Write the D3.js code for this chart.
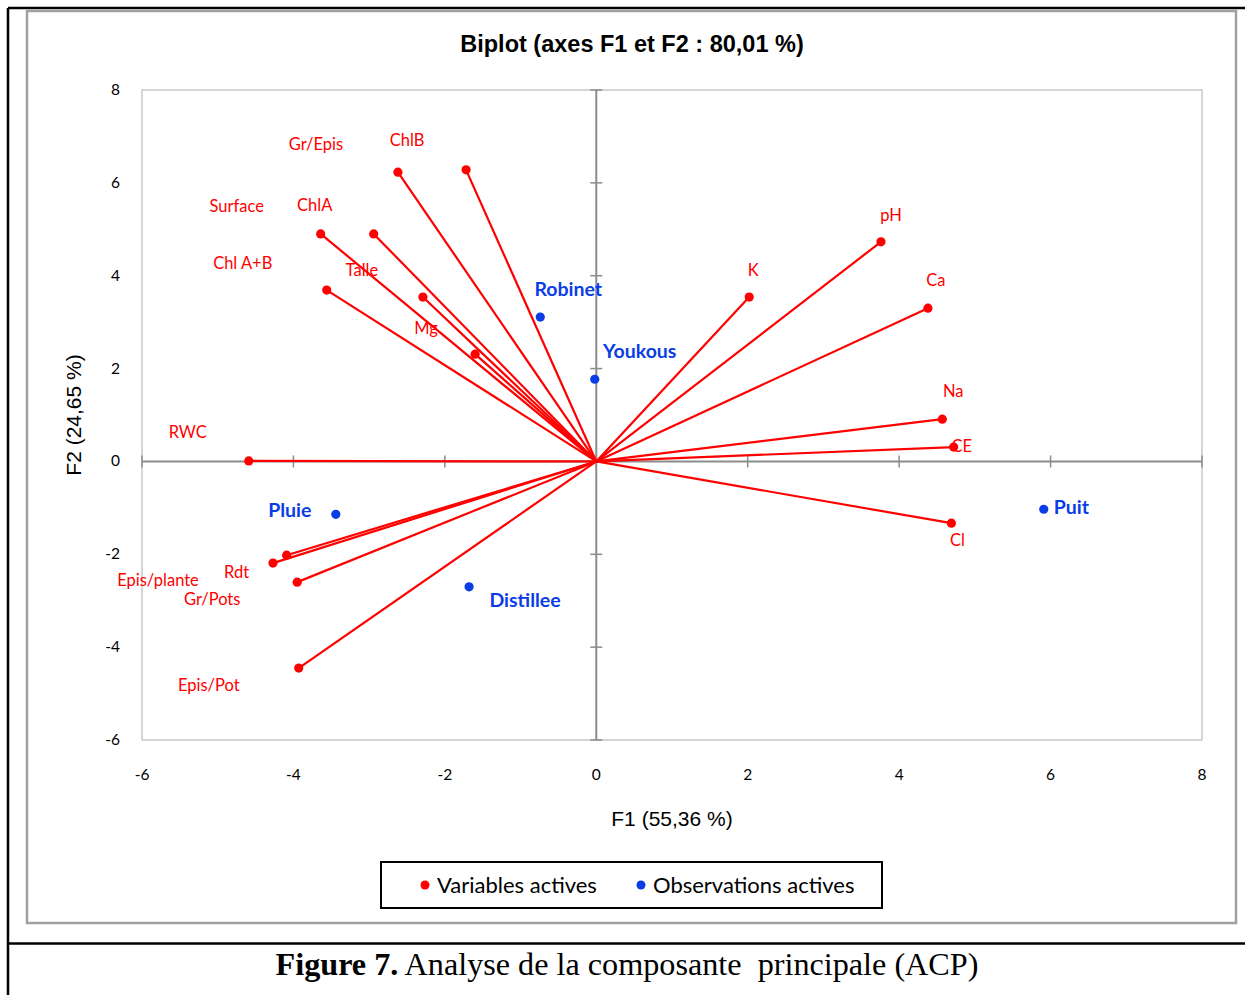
<!DOCTYPE html>
<html><head><meta charset="utf-8">
<script src="https://cdn.jsdelivr.net/npm/d3@7"></script>
<style>body{margin:0;background:#fff}svg{display:block}</style>
</head><body>
<script>
// ---- data ----
const varNames = ["Gr/Epis","ChlB","Surface","ChlA","Chl A+B","Talle","Mg","RWC","Rdt","Epis/plante","Gr/Pots","Epis/Pot","pH","K","Ca","Na","CE","Cl"];
const varF1 = [-2.62,-1.72,-3.64,-2.94,-3.56,-2.29,-1.60,-4.59,-4.09,-4.27,-3.95,-3.93,3.76,2.02,4.38,4.57,4.72,4.69];
const varF2 = [6.23,6.28,4.90,4.90,3.69,3.54,2.31,0.01,-2.02,-2.19,-2.60,-4.45,4.73,3.54,3.30,0.91,0.31,-1.33];
const obsNames = ["Robinet","Youkous","Pluie","Distillee","Puit"];
const obsF1 = [-0.74,-0.02,-3.44,-1.68,5.91];
const obsF2 = [3.11,1.77,-1.14,-2.70,-1.03];
const xTicks = [-6,-4,-2,0,2,4,6,8];
const yTicks = [-6,-4,-2,0,2,4,6,8];
const titleText = "Biplot (axes F1 et F2 : 80,01 %)";
const xTitle = "F1 (55,36 %)";
const yTitle = "F2 (24,65 %)";
const legendItems = ["Variables actives","Observations actives"];

// ---- label layout (pixel offsets from point) ----
const varLabelOff = [[-82,-28],[-59,-29],[-84,-27],[-59,-28],[-84,-27],[-61,-27],[-49,-26],[-61,-28],
  [-50,17],[-115,17],[-85,17],[-90,17],[10,-26],[4,-27],[8,-28],[11,-28],[8,-1],[6,17]];
const obsLabelOff = [[28,-28],[45,-28],[-46,-4],[56,14],[10,-2]];
const obsAnchor = ["middle","middle","middle","middle","start"];

const W = 1245, H = 995;
const svg = d3.select("body").append("svg").attr("width",W).attr("height",H);

// frames
svg.append("line").attr("x1",8).attr("y1",8).attr("x2",W).attr("y2",8).attr("stroke","#000").attr("stroke-width",2.5);
svg.append("line").attr("x1",8).attr("y1",8).attr("x2",8).attr("y2",H).attr("stroke","#000").attr("stroke-width",2.5);
svg.append("line").attr("x1",8).attr("y1",943.5).attr("x2",W).attr("y2",943.5).attr("stroke","#000").attr("stroke-width",2.5);
svg.append("rect").attr("x",27).attr("y",11).attr("width",1209).attr("height",912)
  .attr("fill","none").attr("stroke","#a0a0a0").attr("stroke-width",2.5);

const x = d3.scaleLinear().domain([-6,8]).range([142,1202]);
const y = d3.scaleLinear().domain([-6,8]).range([740,90]);

// plot area
svg.append("rect").attr("x",x(-6)).attr("y",y(8)).attr("width",x(8)-x(-6)).attr("height",y(-6)-y(8))
  .attr("fill","none").attr("stroke","#c8c8c8").attr("stroke-width",1.5);

const tickFont = "Lato, 'Noto Sans', sans-serif";
// axes through origin
svg.append("line").attr("x1",x(-6)).attr("x2",x(8)).attr("y1",y(0)).attr("y2",y(0)).attr("stroke","#8c8c8c").attr("stroke-width",2);
svg.append("line").attr("y1",y(-6)).attr("y2",y(8)).attr("x1",x(0)).attr("x2",x(0)).attr("stroke","#8c8c8c").attr("stroke-width",2);
// tick marks crossing axes
svg.append("g").selectAll("line").data(yTicks).join("line")
  .attr("x1",x(0)-6).attr("x2",x(0)+6).attr("y1",d=>y(d)).attr("y2",d=>y(d)).attr("stroke","#8c8c8c").attr("stroke-width",1.5);
svg.append("g").selectAll("line").data(xTicks).join("line")
  .attr("y1",y(0)-6).attr("y2",y(0)+6).attr("x1",d=>x(d)).attr("x2",d=>x(d)).attr("stroke","#8c8c8c").attr("stroke-width",1.5);

// tick labels
svg.append("g").selectAll("text").data(xTicks).join("text")
  .attr("x",d=>x(d)).attr("y",780).attr("text-anchor","middle")
  .attr("font-family",tickFont).attr("font-size",15.5).attr("fill","#000").text(d=>d);
svg.append("g").selectAll("text").data(yTicks).join("text")
  .attr("x",120).attr("y",d=>y(d)+5).attr("text-anchor","end")
  .attr("font-family",tickFont).attr("font-size",15.5).attr("fill","#000").text(d=>d);

// title & axis titles
svg.append("text").attr("x",632).attr("y",52).attr("text-anchor","middle")
  .attr("font-family","'Liberation Sans', Arial, sans-serif").attr("font-weight","bold").attr("font-size",23.5).text(titleText);
svg.append("text").attr("x",672).attr("y",826).attr("text-anchor","middle")
  .attr("font-family","'Liberation Sans', Arial, sans-serif").attr("font-size",21).text(xTitle);
svg.append("text").attr("transform","translate(81,415) rotate(-90)").attr("text-anchor","middle")
  .attr("font-family","'Liberation Sans', Arial, sans-serif").attr("font-size",21).text(yTitle);

// variable vectors
const vars = varNames.map((n,i)=>({n, f1:varF1[i], f2:varF2[i], off:varLabelOff[i]}));
svg.append("g").selectAll("line").data(vars).join("line")
  .attr("x1",x(0)).attr("y1",y(0)).attr("x2",d=>x(d.f1)).attr("y2",d=>y(d.f2))
  .attr("stroke","#ff0000").attr("stroke-width",2.2);
svg.append("g").selectAll("circle").data(vars).join("circle")
  .attr("cx",d=>x(d.f1)).attr("cy",d=>y(d.f2)).attr("r",4.6).attr("fill","#ff0000");
svg.append("g").selectAll("text").data(vars).join("text")
  .attr("x",d=>x(d.f1)+d.off[0]).attr("y",d=>y(d.f2)+d.off[1]+5.5).attr("text-anchor","middle")
  .attr("font-family",tickFont).attr("font-size",16.5).attr("fill","#ff0000").text(d=>d.n);

// observations
const obs = obsNames.map((n,i)=>({n, f1:obsF1[i], f2:obsF2[i], off:obsLabelOff[i], a:obsAnchor[i]}));
svg.append("g").selectAll("circle").data(obs).join("circle")
  .attr("cx",d=>x(d.f1)).attr("cy",d=>y(d.f2)).attr("r",4.6).attr("fill","#0a3de6");
svg.append("g").selectAll("text").data(obs).join("text")
  .attr("x",d=>x(d.f1)+d.off[0]).attr("y",d=>y(d.f2)+d.off[1]+6.5).attr("text-anchor",d=>d.a)
  .attr("font-family",tickFont).attr("font-weight","bold").attr("font-size",19.5).attr("fill","#0a3de6").text(d=>d.n);

// legend
svg.append("rect").attr("x",381).attr("y",862).attr("width",501).attr("height",46)
  .attr("fill","#fff").attr("stroke","#000").attr("stroke-width",2);
const legColors = ["#ff0000","#0a3de6"];
const legX = [425,641];
legendItems.forEach((t,i)=>{
  svg.append("circle").attr("cx",legX[i]).attr("cy",885).attr("r",4.5).attr("fill",legColors[i]);
  svg.append("text").attr("x",legX[i]+12).attr("y",892.5).attr("font-family",tickFont).attr("font-size",22).text(t);
});

// caption
const cap = svg.append("text").attr("x",627).attr("y",975).attr("text-anchor","middle")
  .attr("font-family","'Liberation Serif', 'Times New Roman', serif").attr("font-size",32.2);
cap.append("tspan").attr("font-weight","bold").text("Figure 7.");
cap.append("tspan").text(" Analyse de la composante\u00a0 principale (ACP)");
</script>
</body></html>
